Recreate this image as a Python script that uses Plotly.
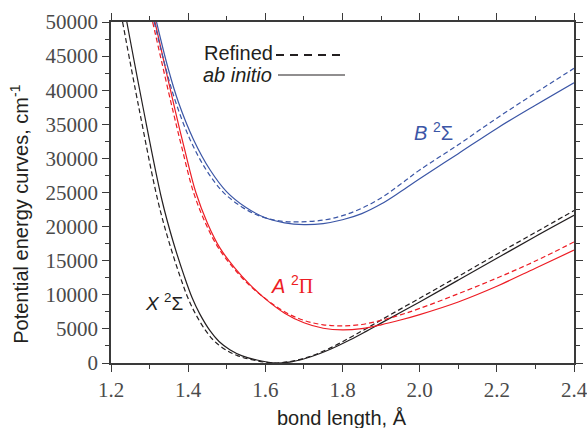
import plotly.graph_objects as go

# ---- data (bond length in Angstrom, energy in cm^-1) ----
x_solid_r = [1.241, 1.283, 1.332, 1.360, 1.390, 1.410, 1.430, 1.457, 1.480, 1.508, 1.540,
             1.578, 1.630, 1.670, 1.720, 1.770, 1.820, 1.860, 1.900, 2.000, 2.100, 2.200,
             2.300, 2.400]
x_solid_e = [50000, 37500, 23900, 18000, 12700, 9600, 7200, 4700, 3150, 1950, 1050,
             440, 0, 200, 950, 2050, 3400, 4600, 5850, 8950, 12150, 15350,
             18550, 21650]

x_ref_r = [1.230, 1.272, 1.321, 1.349, 1.379, 1.399, 1.419, 1.446, 1.469, 1.497, 1.529,
           1.568, 1.620, 1.670, 1.720, 1.770, 1.820, 1.860, 1.900, 2.000, 2.100, 2.200,
           2.300, 2.400]
x_ref_e = [50000, 37500, 23900, 18000, 12700, 9600, 7200, 4700, 3150, 1950, 1050,
           440, 0, 280, 1050, 2250, 3750, 5000, 6300, 9500, 12700, 15950,
           19150, 22350]

a_solid_r = [1.314, 1.340, 1.366, 1.390, 1.420, 1.450, 1.483, 1.520, 1.560, 1.600, 1.650,
             1.700, 1.750, 1.800, 1.850, 1.900, 1.950, 2.000, 2.100, 2.200, 2.300, 2.400]
a_solid_e = [50000, 43500, 37100, 31500, 25000, 20500, 16800, 14000, 11500, 9400, 7300,
             5900, 5100, 4850, 5050, 5600, 6300, 7100, 8950, 11250, 13900, 16550]

a_ref_r = [1.308, 1.334, 1.360, 1.384, 1.414, 1.445, 1.478, 1.515, 1.555, 1.600, 1.650,
           1.700, 1.750, 1.800, 1.850, 1.900, 1.950, 2.000, 2.100, 2.200, 2.300, 2.400]
a_ref_e = [50000, 43500, 37100, 31500, 25000, 20500, 16900, 14100, 11600, 9450, 7500,
           6250, 5600, 5450, 5650, 6250, 7050, 8000, 10150, 12450, 14950, 17750]

b_solid_r = [1.318, 1.349, 1.375, 1.414, 1.457, 1.500, 1.550, 1.600, 1.650, 1.700, 1.750,
             1.800, 1.850, 1.900, 1.950, 2.000, 2.100, 2.200, 2.300, 2.400]
b_solid_e = [50000, 43000, 38200, 32750, 28300, 25100, 22800, 21300, 20550, 20300, 20450,
             21000, 21900, 23300, 25100, 27000, 30700, 34400, 37800, 41100]

b_ref_r = [1.312, 1.343, 1.368, 1.405, 1.447, 1.490, 1.540, 1.590, 1.640, 1.690, 1.750,
           1.800, 1.850, 1.900, 1.950, 2.000, 2.100, 2.200, 2.300, 2.400]
b_ref_e = [50000, 43000, 38200, 32750, 28300, 25100, 22850, 21450, 20800, 20700, 20950,
           21600, 22700, 24200, 26200, 28300, 32000, 35900, 39600, 43200]

x_ticks = [1.2, 1.4, 1.6, 1.8, 2.0, 2.2, 2.4]
x_tick_text = ["1.2", "1.4", "1.6", "1.8", "2.0", "2.2", "2.4"]
y_ticks = [0, 5000, 10000, 15000, 20000, 25000, 30000, 35000, 40000, 45000, 50000]

BLACK = "#231f20"
RED = "#ed1c24"
BLUE = "#3b56a6"

fig = go.Figure()

def add(r, e, color, dashed):
    fig.add_trace(go.Scatter(
        x=r, y=e, mode="lines",
        line=dict(color=color, width=1.2, shape="spline", smoothing=1.0,
                  dash="5px,3px" if dashed else "solid"),
        showlegend=False, hoverinfo="skip"))

add(x_solid_r, x_solid_e, BLACK, False)
add(x_ref_r, x_ref_e, BLACK, True)
add(a_solid_r, a_solid_e, RED, False)
add(a_ref_r, a_ref_e, RED, True)
add(b_solid_r, b_solid_e, BLUE, False)
add(b_ref_r, b_ref_e, BLUE, True)

tickfont = dict(family="Liberation Serif", size=21, color="#4a4a4a")
common = dict(showgrid=False, zeroline=False, showline=True, linecolor="#3a3a3a",
              linewidth=1.6, mirror="ticks", ticks="outside", ticklen=7, tickwidth=1.3,
              tickcolor="#3a3a3a", tickfont=tickfont, automargin=False,
              ticklabeloverflow="allow")

fig.update_xaxes(range=[1.2, 2.4], tickvals=x_ticks, ticktext=x_tick_text,
                 minor=dict(dtick=0.1, ticklen=4, tickwidth=1.2, ticks="outside",
                            tickcolor="#3a3a3a"), **common)
fig.update_yaxes(range=[0, 50000], tickvals=y_ticks, ticktext=[str(v) for v in y_ticks],
                 minor=dict(dtick=2500, ticklen=4, tickwidth=1.2, ticks="outside",
                            tickcolor="#3a3a3a"), **common)

sans = "Liberation Sans"
PI = "<span style='font-family:Liberation Serif'>Π</span>"
ann = [
    dict(text="Potential energy curves, cm<sup>-1</sup>", xref="paper", yref="paper",
         x=-0.197, y=0.437, textangle=-90, showarrow=False, xanchor="center",
         yanchor="middle", font=dict(family=sans, size=20, color=BLACK)),
    dict(text="bond length, Å", xref="paper", yref="paper", x=0.499, y=-0.162,
         showarrow=False, xanchor="center", yanchor="middle",
         font=dict(family=sans, size=20, color=BLACK)),
    dict(text="Refined", xref="paper", yref="paper", x=(275 - 111) / 463, y=(363 - 53) / 341,
         showarrow=False, xanchor="right", yanchor="middle",
         font=dict(family=sans, size=20, color=BLACK)),
    dict(text="<i>ab initio</i>", xref="paper", yref="paper", x=(274 - 111) / 463,
         y=(363 - 75) / 341, showarrow=False, xanchor="right", yanchor="middle",
         font=dict(family=sans, size=20, color=BLACK)),
    dict(text="<i>X</i> <sup>2</sup>Σ", x=1.338, y=8940, showarrow=False,
         font=dict(family=sans, size=19, color=BLACK)),
    dict(text="<i>A</i> <sup>2</sup>" + PI, x=1.669, y=11580, showarrow=False,
         font=dict(family=sans, size=20, color=RED)),
    dict(text="<i>B</i> <sup>2</sup>Σ", x=2.035, y=34000, showarrow=False,
         font=dict(family=sans, size=20, color=BLUE)),
]

shapes = [
    dict(type="line", xref="paper", yref="paper", x0=(276 - 111) / 463, x1=(343 - 111) / 463,
         y0=(363 - 55) / 341, y1=(363 - 55) / 341,
         line=dict(color=BLACK, width=2, dash="8px,6px")),
    dict(type="line", xref="paper", yref="paper", x0=(278 - 111) / 463, x1=(345 - 111) / 463,
         y0=(363 - 75) / 341, y1=(363 - 75) / 341,
         line=dict(color=BLACK, width=1.2)),
]

fig.update_layout(width=587, height=428, autosize=False,
                  margin=dict(l=111, r=13, t=22, b=65),
                  plot_bgcolor="white", paper_bgcolor="white",
                  annotations=ann, shapes=shapes, showlegend=False)

fig.write_html("out.html", config={"displayModeBar": False},
               post_script="document.body.style.margin='0';document.body.style.overflow='hidden';")
